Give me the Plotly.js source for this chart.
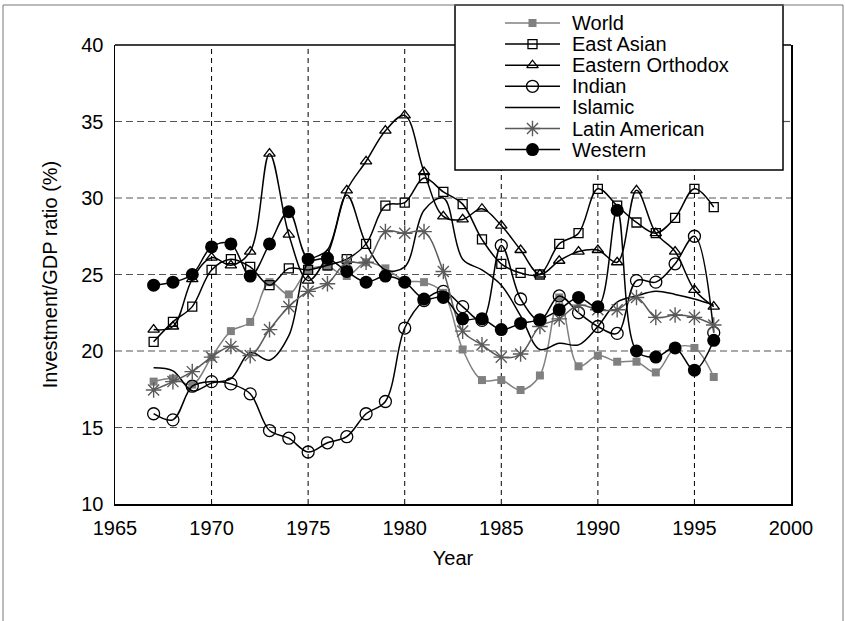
<!DOCTYPE html>
<html><head><meta charset="utf-8">
<script src="https://cdn.plot.ly/plotly-3.0.1.min.js"></script>
<style>html,body{margin:0;padding:0;background:#fff}#chart{width:845px;height:621px}</style>
</head><body><div id="chart"></div>
<script>
// ---------------- data ----------------
const years = [1967,1968,1969,1970,1971,1972,1973,1974,1975,1976,1977,1978,1979,1980,1981,1982,1983,1984,1985,1986,1987,1988,1989,1990,1991,1992,1993,1994,1995,1996];
const world = [18.0,18.2,17.8,19.6,21.3,21.9,24.5,23.7,25.3,25.5,24.9,25.8,25.4,24.6,24.5,23.8,20.1,18.1,18.1,17.45,18.4,23.5,19.0,19.7,19.3,19.3,18.6,20.2,20.2,18.3];
const eastAsian = [20.6,21.9,22.9,25.3,26.0,25.5,24.3,25.4,25.3,25.6,26.0,27.0,29.5,29.7,31.3,30.4,29.6,27.3,25.7,25.1,25.0,27.0,27.7,30.6,29.5,28.4,27.7,28.7,30.6,29.4];
const easternOrthodox = [21.4,21.6,24.7,26.1,25.6,26.5,32.9,27.6,24.6,26.3,30.5,32.4,34.4,35.4,31.7,28.8,28.6,29.3,28.2,26.6,25.0,25.9,26.5,26.6,25.8,30.5,27.7,26.5,24.0,22.9];
const indian = [15.9,15.5,17.7,18.0,17.85,17.2,14.8,14.3,13.4,14.0,14.4,15.9,16.7,21.5,23.3,23.9,22.9,22.0,26.9,23.4,22.0,23.6,22.5,21.6,21.15,24.6,24.5,25.7,27.5,21.2];
const islamic = [18.9,18.7,17.4,17.9,18.2,19.9,19.4,21.0,25.8,26.6,30.2,27.0,25.3,25.5,29.2,30.0,26.0,25.3,24.3,22.3,20.1,20.5,20.4,21.6,23.2,23.6,23.9,23.7,23.4,23.0];
const latinAmerican = [17.45,18.0,18.65,19.6,20.3,19.7,21.4,22.9,23.9,24.4,25.8,25.8,27.8,27.7,27.8,25.2,21.3,20.4,19.6,19.8,21.6,22.1,23.0,22.7,22.7,23.5,22.2,22.35,22.2,21.7];
const western = [24.3,24.5,25.0,26.8,27.0,24.9,27.0,29.1,26.0,26.05,25.2,24.5,24.9,24.5,23.4,23.5,22.1,22.1,21.4,21.8,22.05,22.7,23.5,22.9,29.2,20.0,19.6,20.2,18.75,20.7];
const seriesNames = ['World','East Asian','Eastern Orthodox','Indian','Islamic','Latin American','Western'];
const seriesValues = [world, eastAsian, easternOrthodox, indian, islamic, latinAmerican, western];
const xTicks = [1965,1970,1975,1980,1985,1990,1995,2000];
const yTicks = [10,15,20,25,30,35,40];

// ---------------- styles ----------------
const styles = [
  {color:'#808080', symbol:'square', size:8, lw:0},
  {color:'#000000', symbol:'square-open', size:9, lw:1.3},
  {color:'#000000', symbol:'triangle-up-open', size:10, lw:1.3},
  {color:'#000000', symbol:'circle-open', size:12, lw:1.3},
  {color:'#000000', symbol:'circle', size:0, lw:0},
  {color:'#5a5a5a', symbol:'asterisk-open', size:13, lw:1.4},
  {color:'#000000', symbol:'circle', size:13, lw:0}
];

// geometry (pixels)
const W=845, H=621, ML=115, MR=54, MB=117, PLOT_TOP=45;
const PW = W-ML-MR;            // plot width
const PAPER_H = H-MB;          // paper height (top margin 0)
const PH = PAPER_H-PLOT_TOP;   // main plot height
const X0=1965, X1=2000, Y0=10, Y1=40;
const pxX = p => (p-ML)/PW;               // pixel -> paper x
const pxY = p => (PAPER_H-p)/PAPER_H;     // pixel -> paper y
const pxToDataX = p => X0 + (p-ML)/PW*(X1-X0);
const pxToDataY = p => Y0 + (PAPER_H-p)/PH*(Y1-Y0);
const boxL=455, boxR=783, boxT=5, boxB=170;
const boxLeftData = pxToDataX(boxL);
const boxRightData = pxToDataX(boxR);
const boxBottomData = pxToDataY(boxB);

const font = 'Liberation Sans, Arial, Helvetica, sans-serif';

const traces = seriesNames.map((name,i)=>({
  type:'scatter', name:name, x:years, y:seriesValues[i],
  mode: styles[i].size>0 ? 'lines+markers' : 'lines',
  line:{color:styles[i].color, width:1.5, shape:'spline', smoothing:1},
  marker:{symbol:styles[i].symbol, size:styles[i].size, color:styles[i].color,
          line:{color:styles[i].color, width:styles[i].lw}},
  showlegend:false, hoverinfo:'skip'
}));

// custom legend: rows in pixel space, drawn on a helper subplot (x2,y2) mapped 1:1 to pixels
const rowY = seriesNames.map((_,i)=> 23 + 21.1*i);
const lineX0 = 505, lineX1 = 560, textX = 570;
seriesNames.forEach((name,i)=>{
  if (styles[i].size>0) traces.push({
    type:'scatter', mode:'markers', xaxis:'x2', yaxis:'y2',
    x:[(lineX0+lineX1)/2], y:[rowY[i]],
    marker:{symbol:styles[i].symbol, size:styles[i].size, color:styles[i].color,
            line:{color:styles[i].color, width:styles[i].lw}},
    showlegend:false, hoverinfo:'skip'
  });
});

const shapes = [];
// gridlines
xTicks.filter(v=>v>X0 && v<X1).forEach(v=>{
  shapes.push({type:'line', xref:'x', yref:'y', layer:'below', x0:v, x1:v, y0:Y0,
    y1: v>boxLeftData ? boxBottomData : Y1, line:{color:'#000', width:1, dash:'5px,4px'}});
});
yTicks.filter(v=>v>Y0 && v<Y1).forEach(v=>{
  if (v>boxBottomData) {
    shapes.push({type:'line', xref:'x', yref:'y', layer:'below', x0:X0, x1:boxLeftData, y0:v, y1:v, line:{color:'#555', width:1.2, dash:'7px,4px'}});
    shapes.push({type:'line', xref:'x', yref:'y', layer:'below', x0:boxRightData, x1:X1, y0:v, y1:v, line:{color:'#555', width:1.2, dash:'7px,4px'}});
  } else {
    shapes.push({type:'line', xref:'x', yref:'y', layer:'below', x0:X0, x1:X1, y0:v, y1:v, line:{color:'#555', width:1.2, dash:'7px,4px'}});
  }
});
// top border segments (outside legend box)
shapes.push({type:'line', xref:'paper', yref:'paper', x0:0, x1:pxX(boxL), y0:pxY(PLOT_TOP), y1:pxY(PLOT_TOP), line:{color:'#000', width:1.5}});
shapes.push({type:'line', xref:'paper', yref:'paper', x0:pxX(boxR), x1:1, y0:pxY(PLOT_TOP), y1:pxY(PLOT_TOP), line:{color:'#000', width:1.5}});
// legend box
shapes.push({type:'rect', xref:'paper', yref:'paper', x0:pxX(boxL), x1:pxX(boxR), y0:pxY(boxB), y1:pxY(boxT), line:{color:'#000', width:1.5}});
// outer figure frame
shapes.push({type:'rect', xref:'paper', yref:'paper', x0:pxX(3), x1:pxX(843), y0:pxY(640), y1:pxY(5), line:{color:'#777', width:1}});
// legend line samples
seriesNames.forEach((_,i)=>{
  shapes.push({type:'line', xref:'paper', yref:'paper', x0:pxX(lineX0), x1:pxX(lineX1), y0:pxY(rowY[i]), y1:pxY(rowY[i]), line:{color:styles[i].color, width:1.5}});
});

const annotations = seriesNames.map((name,i)=>({
  xref:'paper', yref:'paper', x:pxX(textX), y:pxY(rowY[i]), xanchor:'left', yanchor:'middle',
  text:name, showarrow:false, font:{family:font, size:20, color:'#000'}
}));

const layout = {
  width:W, height:H, margin:{l:ML, r:MR, t:0, b:MB, pad:0},
  paper_bgcolor:'#fff', plot_bgcolor:'rgba(0,0,0,0)', showlegend:false,
  font:{family:font, size:20, color:'#000'},
  xaxis:{range:[X0,X1], tickvals:xTicks, ticktext:xTicks.map(String), showgrid:false, zeroline:false,
    showline:true, linecolor:'#000', linewidth:1.5, mirror:false, ticks:'', ticklabelstandoff:5,
    tickfont:{family:font, size:20, color:'#000'},
    title:{text:'Year', font:{family:font, size:20, color:'#000'}, standoff:13}, fixedrange:true},
  yaxis:{range:[Y0,Y1], domain:[0, PH/PAPER_H], tickvals:yTicks, ticktext:yTicks.map(String), showgrid:false, zeroline:false,
    showline:true, linecolor:'#000', linewidth:1.5, mirror:true, ticks:'', ticklabelstandoff:6,
    tickfont:{family:font, size:20, color:'#000'},
    title:{text:'Investment/GDP ratio (%)', font:{family:font, size:20, color:'#000'}, standoff:18}, fixedrange:true},
  xaxis2:{anchor:'y2', domain:[0,1], range:[ML, W-MR], visible:false, fixedrange:true},
  yaxis2:{anchor:'x2', domain:[0,1], range:[PAPER_H, 0], visible:false, fixedrange:true},
  shapes:shapes, annotations:annotations
};

Plotly.newPlot('chart', traces, layout, {staticPlot:true, displayModeBar:false});
</script>
</body></html>
